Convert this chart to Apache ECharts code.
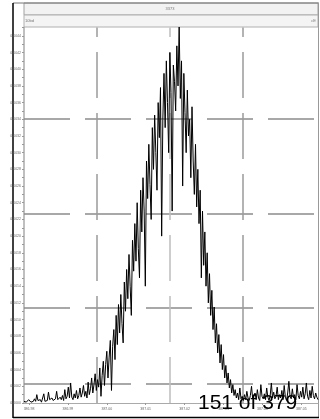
<!DOCTYPE html>
<html>
<head>
<meta charset="utf-8">
<script src="https://cdn.jsdelivr.net/npm/echarts@6/dist/echarts.min.js"></script>
<style>
  html, body { margin: 0; padding: 0; background: #fff; }
  #chart { width: 320px; height: 419px; }
</style>
</head>
<body>
<div id="chart"></div>
<script>
  // spectrum sampling (wavelength, nm)
  const waveStart = 386.9787
  const waveStep = 0.0003
  // intensity, in units of 1e-5
  const intensity = [
    2, 3, 1, 2, 4, 2, 1, 3, 2, 5,
    2, 10, 3, 2, 4, 1, 3, 11, 2, 4,
    3, 13, 4, 2, 6, 3, 2, 5, 14, 4,
    3, 7, 4, 9, 3, 16, 5, 8, 19, 6,
    24, 7, 4, 11, 6, 15, 5, 9, 18, 7,
    12, 21, 8, 14, 6, 25, 10, 17, 30, 12,
    22, 35, 15, 28, 19, 42, 8, 33, 50, 21,
    46, 62, 30, 55, 75, 15, 68, 88, 52, 105,
    70, 118, 84, 130, 95, 72, 145, 110, 160, 125,
    178, 140, 105, 195, 158, 215, 170, 240, 185, 150,
    255, 205, 270, 230, 140, 290, 245, 310, 262, 220,
    330, 280, 345, 300, 255, 360, 318, 378, 200, 340,
    395, 330, 410, 360, 300, 420, 372, 230, 405, 385,
    350, 428, 380, 452, 365, 410, 260, 395, 348, 300,
    375, 320, 340, 270, 355, 290, 250, 310, 235, 280,
    215, 255, 150, 230, 165, 205, 140, 180, 120, 155,
    105, 135, 88, 115, 72, 95, 60, 82, 48, 70,
    40, 58, 30, 45, 24, 36, 18, 28, 12, 22,
    9, 16, 6, 12, 4, 18, 5, 8, 3, 10,
    4, 14, 6, 3, 9, 20, 5, 7, 12, 4,
    16, 6, 3, 22, 8, 5, 11, 4, 18, 7,
    3, 9, 24, 6, 13, 5, 8, 19, 4, 10,
    6, 15, 4, 21, 7, 3, 12, 26, 8, 5,
    17, 6, 10, 4, 22, 9, 5, 14, 7, 19,
    5, 11, 24, 8, 4, 15, 6, 20, 9, 5,
    12, 7, 4
  ]
  const xTickLabels = [386.98, 386.99, 387.00, 387.01, 387.02, 387.03, 387.04, 387.05]
  const cursorX = [386.9975, 387.0162, 387.035]
  const cursorY = [0.000228, 0.001139, 0.002266, 0.003405]
  const headerTitle = '3373'
  const headerLeft = '10bd'
  const headerRight = 'cE'
  const frameText = '151 of 379'

  const chart = echarts.init(document.getElementById('chart'), null, { renderer: 'canvas' })

  const seriesData = intensity.map((v, i) => [waveStart + i * waveStep, v * 1e-5])

  const dash = { type: [46, 15], width: 1.5 }
  const markData = []
  cursorY.forEach(v => markData.push({ yAxis: v, lineStyle: Object.assign({ color: '#8c8c8c' }, dash) }))
  cursorX.forEach((v, i) => markData.push({ xAxis: v, lineStyle: Object.assign({ color: i === 1 ? '#bdbdbd' : '#9a9a9a' }, dash) }))

  chart.setOption({
    backgroundColor: '#fff',
    animation: false,
    grid: { left: 24, right: 2, top: 27.5, bottom: 16 },
    xAxis: {
      type: 'value',
      min: 386.97871,
      max: 387.05429,
      axisLine: { show: true, lineStyle: { color: '#aaa', width: 1 } },
      axisTick: { show: true, length: 2, lineStyle: { color: '#999' }, customValues: xTickLabels },
      axisLabel: {
        customValues: xTickLabels,
        fontSize: 3.5,
        color: '#666',
        margin: 4,
        formatter: v => v.toFixed(2)
      },
      splitLine: { show: false }
    },
    yAxis: {
      type: 'value',
      min: 0,
      max: 0.0045,
      interval: 0.0002,
      axisLine: { show: true, lineStyle: { color: '#aaa', width: 1.5 } },
      axisTick: { show: true, length: 2, lineStyle: { color: '#999' } },
      minorTick: { show: true, splitNumber: 2, length: 2, lineStyle: { color: '#999' } },
      axisLabel: {
        fontSize: 3.5,
        color: '#666',
        margin: 3,
        showMaxLabel: false,
        formatter: v => v.toFixed(4)
      },
      splitLine: { show: false }
    },
    series: [{
      type: 'line',
      data: seriesData,
      showSymbol: false,
      z: 3,
      lineStyle: { color: '#000', width: 1 },
      markLine: {
        silent: true,
        symbol: 'none',
        precision: 6,
        z: 2,
        label: { show: false },
        data: markData
      }
    }],
    graphic: [
      { type: 'rect', shape: { x: 24, y: 3, width: 294, height: 12 }, style: { fill: '#f2f2f2', stroke: '#a0a0a0', lineWidth: 1 } },
      { type: 'rect', shape: { x: 24, y: 15, width: 294, height: 12 }, style: { fill: '#f4f4f4', stroke: '#b0b0b0', lineWidth: 1 } },
      { type: 'text', x: 170, y: 9, style: { text: headerTitle, fontSize: 4, fill: '#777', align: 'center', verticalAlign: 'middle' } },
      { type: 'text', x: 25, y: 21, style: { text: headerLeft, fontSize: 4, fill: '#777', verticalAlign: 'middle' } },
      { type: 'text', x: 316, y: 21, style: { text: headerRight, fontSize: 4, fill: '#777', align: 'right', verticalAlign: 'middle' } },
      { type: 'line', shape: { x1: 13, y1: 3, x2: 319, y2: 3 }, style: { stroke: '#777', lineWidth: 1 } },
      { type: 'line', shape: { x1: 318.5, y1: 3, x2: 318.5, y2: 417 }, style: { stroke: '#999', lineWidth: 1 } },
      { type: 'line', shape: { x1: 13, y1: 3, x2: 13, y2: 418 }, style: { stroke: '#000', lineWidth: 1.5 } },
      { type: 'line', shape: { x1: 13, y1: 417.5, x2: 319, y2: 417.5 }, style: { stroke: '#000', lineWidth: 1.5 } },
      { type: 'text', left: 198, top: 393, z: 100, style: { text: frameText, fontSize: 21, fontFamily: 'Liberation Sans', fill: '#000' } }
    ]
  })
</script>
</body>
</html>
